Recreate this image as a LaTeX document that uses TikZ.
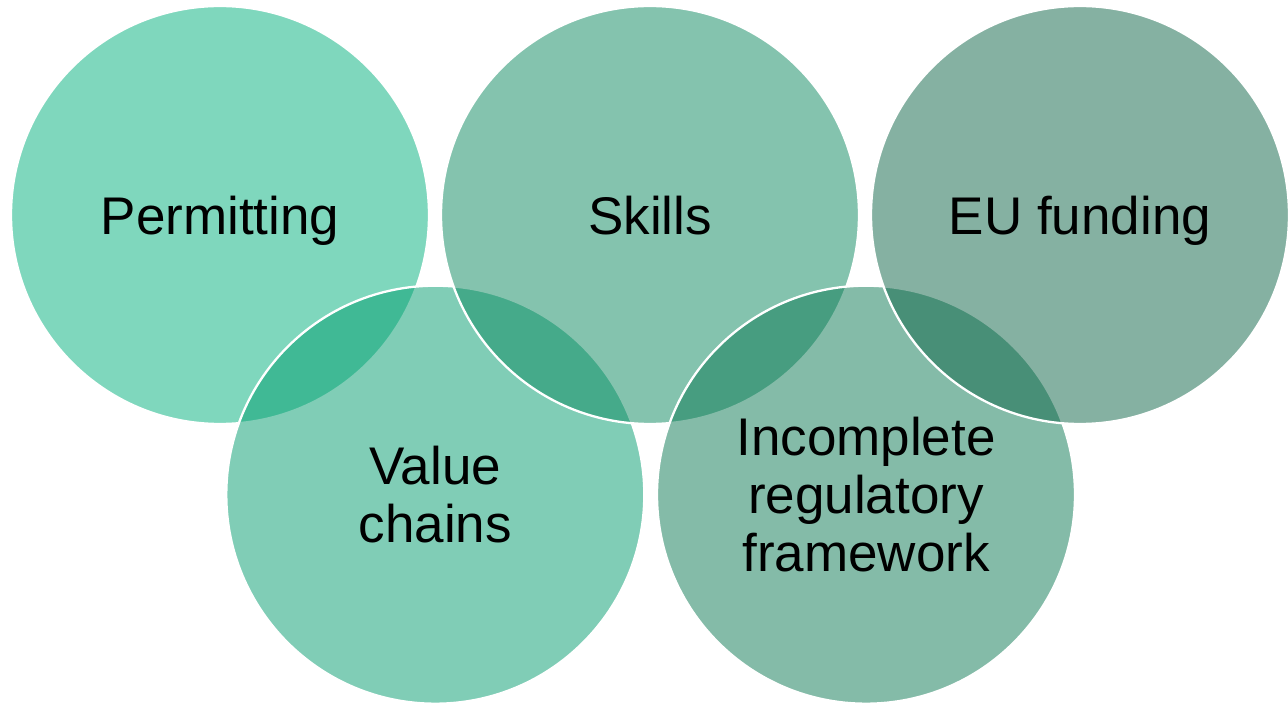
\documentclass[tikz,border=0pt]{standalone}
\usepackage{fontspec}
\setmainfont{Liberation Sans}
\usetikzlibrary{positioning}
\definecolor{permitgreen}{RGB}{0, 177, 125}
\definecolor{valuegreen}{RGB}{3, 157, 111}
\definecolor{skillsgreen}{RGB}{11, 137, 95}
\definecolor{rulesgreen}{RGB}{11, 121, 83}
\definecolor{fundgreen}{RGB}{13, 101, 71}

\begin{document}
\begin{tikzpicture}[
    x=1pt, y=-1pt,
    on grid,
    font=\fontsize{53}{58}\selectfont,
    venn/.style={
        circle,
        minimum size=418pt,
        draw=white,
        line width=2.3pt,
        fill opacity=0.5,
        text opacity=1,
        align=center,
        text depth=0pt
    }
]

    % Canvas
    \path[use as bounding box, fill=white] (0,0) rectangle (1288,703);

    % Circles, drawn in zigzag order
    \node[venn, fill=permitgreen] at (220,215) (permit) {Permitting};
    \node[venn, fill=valuegreen, below right=279.7pt and 215.3pt of permit] (value) {Value\\chains};
    \node[venn, fill=skillsgreen, right=430pt of permit] (skills) {Skills};
    \node[venn, fill=rulesgreen, right=430.7pt of value] (rules) {Incomplete\\regulatory\\framework};
    \node[venn, fill=fundgreen, right=430pt of skills] (fund) {EU funding};

\end{tikzpicture}
\end{document}
